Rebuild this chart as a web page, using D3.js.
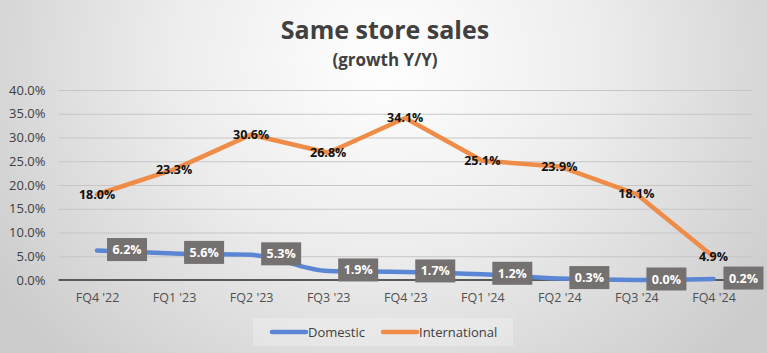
<!DOCTYPE html>
<html>
<head>
<meta charset="utf-8">
<script src="https://cdn.jsdelivr.net/npm/d3@7"></script>
<style>
  body { margin: 0; }
  svg { display: block; font-family: "Open Sans", "Liberation Sans", sans-serif; }
</style>
</head>
<body>
<div id="chart"></div>
<script>
// data
var quarters = ["FQ4 '22", "FQ1 '23", "FQ2 '23", "FQ3 '23", "FQ4 '23", "FQ1 '24", "FQ2 '24", "FQ3 '24", "FQ4 '24"];
var domestic = [6.2, 5.6, 5.3, 1.9, 1.7, 1.2, 0.3, 0.0, 0.2];
var international = [18.0, 23.3, 30.6, 26.8, 34.1, 25.1, 23.9, 18.1, 4.9];
var yTicks = [0, 5, 10, 15, 20, 25, 30, 35, 40];
var seriesNames = ["Domestic", "International"];
var colors = {Domestic: "#5b86d4", International: "#ef8c48"};

var W = 767, H = 353;
var margin = {top: 90, right: 15, bottom: 73, left: 58.5};
var width = W - margin.left - margin.right;
var height = H - margin.top - margin.bottom;

var svg = d3.select("#chart").append("svg")
  .attr("width", W)
  .attr("height", H);

// background gradient
var defs = svg.append("defs");
var grad = defs.append("radialGradient")
  .attr("id", "bg")
  .attr("gradientUnits", "userSpaceOnUse")
  .attr("cx", 385).attr("cy", 60).attr("r", 470)
  .attr("gradientTransform", "translate(385,60) scale(1,0.9) translate(-385,-60)");
grad.append("stop").attr("offset", "0").attr("stop-color", "#ffffff");
grad.append("stop").attr("offset", "0.45").attr("stop-color", "#ededed");
grad.append("stop").attr("offset", "1").attr("stop-color", "#cbcbcb");
svg.append("rect").attr("width", W).attr("height", H).attr("fill", "url(#bg)");

// title
svg.append("text")
  .attr("x", 385).attr("y", 39)
  .attr("text-anchor", "middle")
  .style("font-size", "25px").style("font-weight", "bold")
  .style("fill", "#404040")
  .text("Same store sales");
svg.append("text")
  .attr("x", 385).attr("y", 66)
  .attr("text-anchor", "middle")
  .style("font-size", "17px").style("font-weight", "bold")
  .style("fill", "#404040")
  .text("(growth Y/Y)");

var g = svg.append("g")
  .attr("transform", "translate(" + margin.left + "," + margin.top + ")");

var x = d3.scalePoint().domain(quarters).range([0, width]).padding(0.5);
var y = d3.scaleLinear().domain([0, 40]).range([height, 0]);

// gridlines + y labels
var yAxis = g.append("g")
  .call(d3.axisLeft(y).tickValues(yTicks).tickSize(-width).tickPadding(13)
    .tickFormat(function(d) { return d.toFixed(1) + "%"; }));
yAxis.select(".domain").remove();
yAxis.selectAll(".tick line").attr("stroke", "#c6c6c6").attr("stroke-width", 1);
yAxis.selectAll(".tick text").style("font-size", "13px").style("fill", "#404040")
  .style("font-family", "'Open Sans', sans-serif");

// x axis (zero line)
var xAxis = g.append("g")
  .attr("transform", "translate(0," + height + ")")
  .call(d3.axisBottom(x).tickSize(0).tickPadding(13));
xAxis.select(".domain").attr("stroke", "#595959").attr("stroke-width", 2)
  .attr("d", "M0,0H" + width);
xAxis.selectAll(".tick text").style("font-size", "12.5px").style("fill", "#505050")
  .style("font-family", "'Open Sans', sans-serif");

var domLine = d3.line()
  .x(function(d, i) { return x(quarters[i]); })
  .y(function(d) { return y(d); })
  .curve(d3.curveMonotoneX);
var intLine = d3.line()
  .x(function(d, i) { return x(quarters[i]); })
  .y(function(d) { return y(d); });

g.append("path").datum(domestic)
  .attr("fill", "none").attr("stroke", colors.Domestic)
  .attr("stroke-width", 4.5).attr("stroke-linecap", "round")
  .attr("d", domLine);
g.append("path").datum(international)
  .attr("fill", "none").attr("stroke", colors.International)
  .attr("stroke-width", 4.5).attr("stroke-linecap", "round").attr("stroke-linejoin", "round")
  .attr("d", intLine);

// international labels (centered on point)
g.selectAll(".intlabel").data(international).enter().append("text")
  .attr("class", "intlabel")
  .attr("x", function(d, i) { return x(quarters[i]); })
  .attr("y", function(d) { return y(d); })
  .attr("dy", "0.35em")
  .attr("text-anchor", "middle")
  .style("font-size", "12.5px").style("font-weight", "bold").style("fill", "#111")
  .text(function(d) { return d.toFixed(1) + "%"; });

// domestic labels in grey boxes, right of point
var dl = g.selectAll(".domlabel").data(domestic).enter().append("g")
  .attr("class", "domlabel")
  .attr("transform", function(d, i) { return "translate(" + (x(quarters[i]) + 10) + "," + (y(d) - 1) + ")"; });
dl.append("rect")
  .attr("x", 0).attr("y", -11.5).attr("width", 40).attr("height", 23)
  .attr("fill", "#767171");
dl.append("text")
  .attr("x", 20).attr("dy", "0.36em")
  .attr("text-anchor", "middle")
  .style("font-size", "12.5px").style("font-weight", "bold").style("fill", "#ffffff")
  .text(function(d) { return d.toFixed(1) + "%"; });

// legend
var legend = svg.append("g").attr("transform", "translate(253,318)");
legend.append("rect").attr("width", 260).attr("height", 28)
  .attr("fill", "#ffffff").attr("fill-opacity", 0.25);
var legX = [19, 130];
seriesNames.forEach(function(name, i) {
  legend.append("line")
    .attr("x1", legX[i]).attr("x2", legX[i] + 34)
    .attr("y1", 14).attr("y2", 14)
    .attr("stroke", colors[name]).attr("stroke-width", 4.5).attr("stroke-linecap", "round");
  legend.append("text")
    .attr("x", legX[i] + 36).attr("y", 14).attr("dy", "0.35em")
    .style("font-size", "13px").style("fill", "#404040")
    .text(name);
});
</script>
</body>
</html>
